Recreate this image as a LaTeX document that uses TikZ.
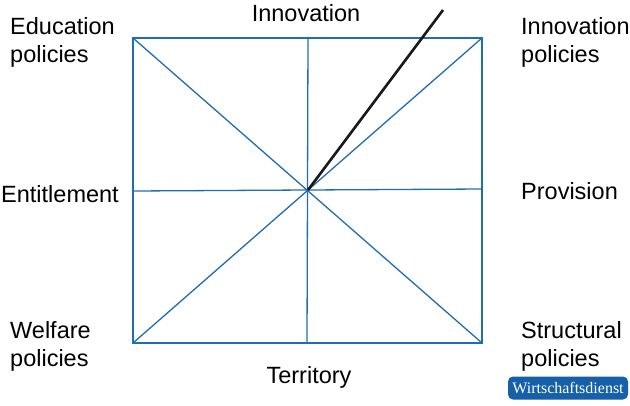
\documentclass[tikz,border=0pt]{standalone}
\usepackage{fontspec}
\setmainfont{Liberation Sans}
\newfontfamily\logofont{Liberation Serif}
\definecolor{lineblue}{HTML}{1F6DB3}
\definecolor{logoblue}{HTML}{1560A8}
\begin{document}
\begin{tikzpicture}[x=1pt,y=-1pt,
  lbl/.style={font=\fontsize{23.5}{28}\selectfont,inner sep=0pt,align=left},
  ln/.style={draw=lineblue,line width=1.3pt}]
\useasboundingbox (0,0) rectangle (630,405);
\coordinate (tl) at (133,38); \coordinate (tr) at (482,38);
\coordinate (bl) at (133,343); \coordinate (br) at (482,343);
\coordinate (c) at (308,190);
\coordinate (tm) at (308,38); \coordinate (bm) at (307,343);
\coordinate (lm) at (133,191); \coordinate (rm) at (482,189);
\coordinate (tip) at (443,10);
\draw[ln] (tl) rectangle (br);
\draw[ln] (tl) -- (br); \draw[ln] (tr) -- (bl);
\draw[ln] (tm) -- (bm); \draw[ln] (lm) -- (rm);
\draw[line width=2.6pt,black!90] (c) -- (tip);
\node[lbl] (inn) at (306,13) {Innovation};
\node[lbl] (ter) at (309,377) {Territory};
\node[lbl,anchor=west] (edu) at (10,42) {Education\\policies};
\node[lbl,anchor=west] (innp) at (521,42) {Innovation\\policies};
\node[lbl,anchor=west] (ent) at (1,194) {Entitlement};
\node[lbl,anchor=west] (prov) at (521,191) {Provision};
\node[lbl,anchor=west] (wel) at (10,346) {Welfare\\policies};
\node[lbl,anchor=west] (str) at (521,346) {Structural\\policies};
\node[fill=logoblue,rounded corners=5pt,minimum width=120pt,minimum height=23pt,inner sep=0pt,text=white,font=\logofont\fontsize{16}{18}\selectfont] (logo) at (568,388) {Wirtschaftsdienst};
\end{tikzpicture}
\end{document}
